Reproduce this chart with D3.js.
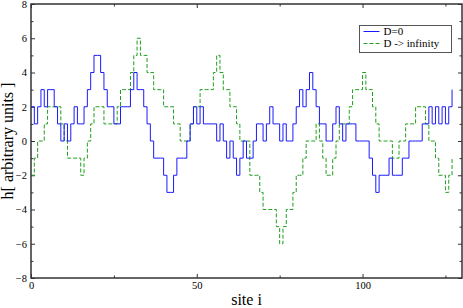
<!DOCTYPE html>
<html>
<head>
<meta charset="utf-8">
<script src="https://cdn.jsdelivr.net/npm/d3@7"></script>
<style>
  body { margin: 0; background: #fff; }
  text { font-family: "Liberation Serif", "Times New Roman", serif; }
</style>
</head>
<body>
<div id="chart"></div>
<script>
// height profiles h(i), one value per site i = 0..127
const sites = d3.range(0, 128);

const hD0 = [
   2, 1, 2, 3, 2, 3, 3, 2, 1, 0,
   1, 0, 1, 2, 1, 1, 2, 3, 4, 5,
   5, 4, 3, 2, 2, 1, 1, 2, 2, 2,
   3, 4, 3, 3, 2, 1, 0,-1,-1,-1,
  -2,-3,-3,-2,-1,-1,-1, 0, 1, 2,
   1, 2, 1, 1, 1, 1, 0, 1, 0,-1,
   0,-1,-2,-1, 0,-1,-1, 0, 1, 1,
   0, 1, 2, 1, 1, 0, 1, 0, 0, 1,
   2, 3, 2, 3, 4, 3, 2, 1, 1, 0,
   0, 1, 2, 1, 0, 1, 1, 1, 0, 0,
   0, 0,-1,-2,-3,-2,-2,-2,-1,-2,
  -2,-2,-1,-1, 0, 0, 0, 0, 1, 1,
   2, 1, 2, 1, 2, 1, 2, 3
];

const hDinf = [
  -2,-1, 0, 0, 1, 2, 2, 2, 2, 1,
   0,-1,-1,-1,-1,-2,-1, 0, 1, 2,
   2, 2, 1, 1, 1, 1, 2, 3, 3, 3,
   4, 5, 6, 5, 5, 4, 4, 3, 3, 3,
   2, 2, 2, 1, 1, 0, 0, 0, 1, 2,
   2, 3, 3, 3, 3, 4, 5, 4, 3, 3,
   2, 2, 1, 0, 0, 0,-2,-2,-2,-3,
  -4,-4,-4,-4,-5,-6,-5,-4,-4,-3,
  -2,-2,-1, 0, 0, 0, 1, 0,-1,-2,
  -2,-1, 0, 1, 1, 1, 2, 3, 3, 3,
   4, 3, 3, 2, 1, 0, 0, 0, 0,-1,
  -1, 0, 0, 1, 1, 1, 2, 2, 2, 1,
   0, 0,-1,-2,-2,-3,-2,-1
];

const seriesNames = ["D=0", "D -> infinity"];
const xMajor = [0, 50, 100];
const xMinor = [25, 75, 125];
const yMajor = [-8, -6, -4, -2, 0, 2, 4, 6, 8];
const yMinor = [-7, -5, -3, -1, 1, 3, 5, 7];

const width = 463,
    height = 308,
    margin = ({ top: 4, right: 1, bottom: 30, left: 31 });

let svg = d3.select("#chart")
    .append("svg")
    .attr("width", width)
    .attr("height", height);

let x = d3.scaleLinear()
    .domain([0, 130])
    .range([margin.left, width - margin.right]);

let y = d3.scaleLinear()
    .domain([-8, 8])
    .range([height - margin.bottom, margin.top]);

const plotW = x(130) - x(0),
    plotH = y(-8) - y(8);

// ticks point inward on all four sides
function tickAxis(axis, vals, size, labels) {
    return axis.tickValues(vals).tickSize(-size).tickPadding(4)
        .tickFormat(labels ? d3.format("d") : "");
}

const axes = [
    [d3.axisBottom, `translate(0,${y(-8)})`, x, true],
    [d3.axisTop, `translate(0,${y(8)})`, x, false],
    [d3.axisLeft, `translate(${x(0)},0)`, y, true],
    [d3.axisRight, `translate(${x(130)},0)`, y, false]
];

for (let [fn, tr, sc, lab] of axes) {
    const isX = sc === x;
    let g = svg.append("g").attr("transform", tr);
    g.call(tickAxis(fn(sc), isX ? xMajor : yMajor, 4, lab));
    g.append("g").call(tickAxis(fn(sc), isX ? xMinor : yMinor, 2.5, false));
    g.attr("font-family", "Liberation Serif, serif").attr("font-size", 10.5);
    g.selectAll(".domain").remove();
    g.selectAll("line").attr("stroke", "#333").attr("stroke-width", 1);
    g.selectAll("text").attr("fill", "#000");
}

let line = d3.line()
    .curve(d3.curveStepAfter)
    .x((d, i) => x(sites[i]))
    .y(d => y(d));

svg.append("path")
    .datum(hDinf)
    .attr("fill", "none")
    .attr("stroke", "#1f9e1f")
    .attr("stroke-width", 1)
    .attr("stroke-dasharray", "4,2")
    .attr("d", line);

svg.append("path")
    .datum(hD0)
    .attr("fill", "none")
    .attr("stroke", "#1a1aff")
    .attr("stroke-width", 1)
    .attr("d", line);

// frame
svg.append("rect")
    .attr("x", x(0))
    .attr("y", y(8))
    .attr("width", plotW)
    .attr("height", plotH)
    .attr("fill", "none")
    .attr("stroke", "#333")
    .attr("stroke-width", 1.5);

// legend
let legend = svg.append("g").attr("transform", "translate(359.5,25.5)");

legend.append("rect")
    .attr("width", 92)
    .attr("height", 27)
    .attr("fill", "#fff")
    .attr("stroke", "#555")
    .attr("stroke-width", 1);

const legColors = ["#1a1aff", "#1f9e1f"],
    legDash = [null, "4,2"];

seriesNames.forEach((name, i) => {
    legend.append("line")
        .attr("x1", 4).attr("x2", 20)
        .attr("y1", 6 + i * 12).attr("y2", 6 + i * 12)
        .attr("stroke", legColors[i])
        .attr("stroke-dasharray", legDash[i]);
    legend.append("text")
        .attr("x", 24)
        .attr("y", 9.5 + i * 12)
        .style("font-size", "11px")
        .text(name);
});

svg.append("text")
    .attr("text-anchor", "middle")
    .attr("x", (x(0) + x(130)) / 2)
    .attr("y", 305)
    .style("font-size", "16px")
    .text("site i");

svg.append("text")
    .attr("text-anchor", "middle")
    .attr("transform", `translate(13,${(y(8) + y(-8)) / 2}) rotate(-90)`)
    .style("font-size", "16px")
    .text("h[ arbitrary units ]");
</script>
</body>
</html>
